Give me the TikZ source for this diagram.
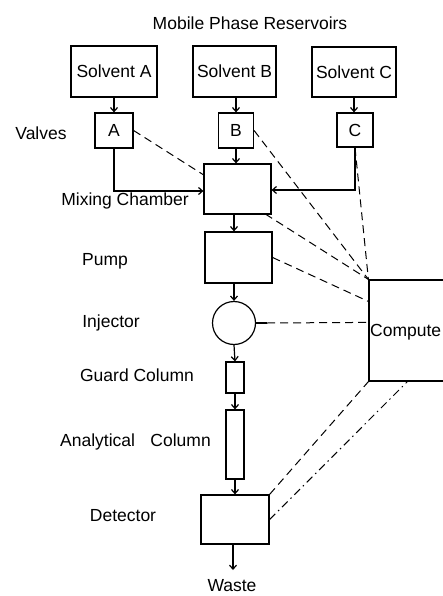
\documentclass[tikz,border=0pt]{standalone}
\usepackage{fontspec}
\setmainfont{Liberation Sans}
\usetikzlibrary{arrows.meta,calc,backgrounds}
\begin{document}
\begin{tikzpicture}[x=1pt,y=-1pt,
  every node/.style={font=\fontsize{17.5}{20}\selectfont},
  box/.style={draw,fill=white,inner sep=0pt,line width=1.2pt},
  lbl/.style={inner sep=0pt},
  flow/.style={line width=1.2pt,-{Straight Barb[length=4pt,width=7pt,line width=1.2pt]}},
  plain/.style={line width=1.2pt},
  sig/.style={line width=1pt,dash pattern=on 8pt off 5pt},
  sigdd/.style={line width=1pt,dash pattern=on 8pt off 4pt on 1.5pt off 4pt}]
\useasboundingbox (0,0) rectangle (443,596);
\clip (0,0) rectangle (443,596);
% labels
\node[lbl] (title) at (250,23) {Mobile Phase Reservoirs};
\node[lbl] (lvalves) at (41,133) {Valves};
\node[lbl] (lmix) at (125,201) {Mixing Chamber};
\node[lbl] (lpump) at (105,261) {Pump};
\node[lbl] (linj) at (111,323) {Injector};
\node[lbl] (lguard) at (137,375) {Guard Column};
\node[lbl] (lanal) at (135.5,442) {Analytical\hspace{0.6em} Column};
\node[lbl] (ldet) at (123,516) {Detector};
\node[lbl] (lwaste) at (232,586) {Waste};
% boxes
\node[box,minimum width=86pt,minimum height=51pt] (solA) at (114,71.5) {Solvent A};
\node[box,minimum width=83pt,minimum height=51pt] (solB) at (234.5,71.5) {Solvent B};
\node[box,minimum width=84pt,minimum height=50pt] (solC) at (354,72) {Solvent C};
\node[box,minimum width=38pt,minimum height=35pt] (valA) at (114,130.5) {A};
\node[box,minimum width=35pt,minimum height=35pt] (valB) at (236,130.5) {B};
\node[box,minimum width=36pt,minimum height=34pt] (valC) at (355,130) {C};
\node[box,minimum width=67pt,minimum height=50pt] (mix) at (237.5,189) {};
\node[box,minimum width=67pt,minimum height=51pt] (pump) at (238.5,257.5) {};
\node[box,circle,minimum size=43pt] (inj) at (234,323) {};
\node[box,minimum width=18pt,minimum height=31pt] (guard) at (235,377.5) {};
\node[box,minimum width=18pt,minimum height=69pt] (anal) at (235,444.5) {};
\node[box,minimum width=68pt,minimum height=49pt] (det) at (235,519.5) {};
\node[box,minimum width=101pt,minimum height=101pt] (comp) at (419.5,330.5) {};
\node[lbl,anchor=west] (comptext) at (370,332) {Compute};
\coordinate (waste) at (233,570);
\coordinate (stub) at (267,323);
% signal lines (behind boxes)
\begin{pgfonlayer}{background}
\draw[sig] (valA.east) -- (comp.north west);
\draw[sig] (valB.east) -- (comp.north west);
\draw[sig] (valC.south) -- (comp.north west);
\draw[sig] (pump.east) -- ($(comp.north west)+(0,22)$);
\draw[plain] (inj.east) -- (stub);
\draw[sig] (stub) -- ($(comp.north west)+(0,43)$);
\draw[sig] (det.north east) -- (comp.south west);
\draw[sigdd] (det.east) -- ($(comp.south west)+(39,0)$);
\end{pgfonlayer}
% flow
\draw[flow] (solA.south) -- (valA.north);
\draw[flow] (solB.south -| valB.north) -- (valB.north);
\draw[flow] (solC.south) -- (solC.south |- valC.north);
\draw[flow] (valA.south) |- ([yshift=-2pt]mix.west);
\draw[flow] (valC.south) |- ([yshift=-1pt]mix.east);
\draw[flow] (valB.south) -- (valB.south |- mix.north);
\draw[flow] (mix.south -| inj.north) -- (inj.north |- pump.north);
\draw[flow] (pump.south -| inj.north) -- (inj.north);
\draw[flow] (inj.south) -- (guard.north);
\draw[flow] (guard.south) -- (anal.north);
\draw[flow] (anal.south) -- (det.north);
\draw[flow] (det.south -| waste) -- (waste);
\end{tikzpicture}
\end{document}
